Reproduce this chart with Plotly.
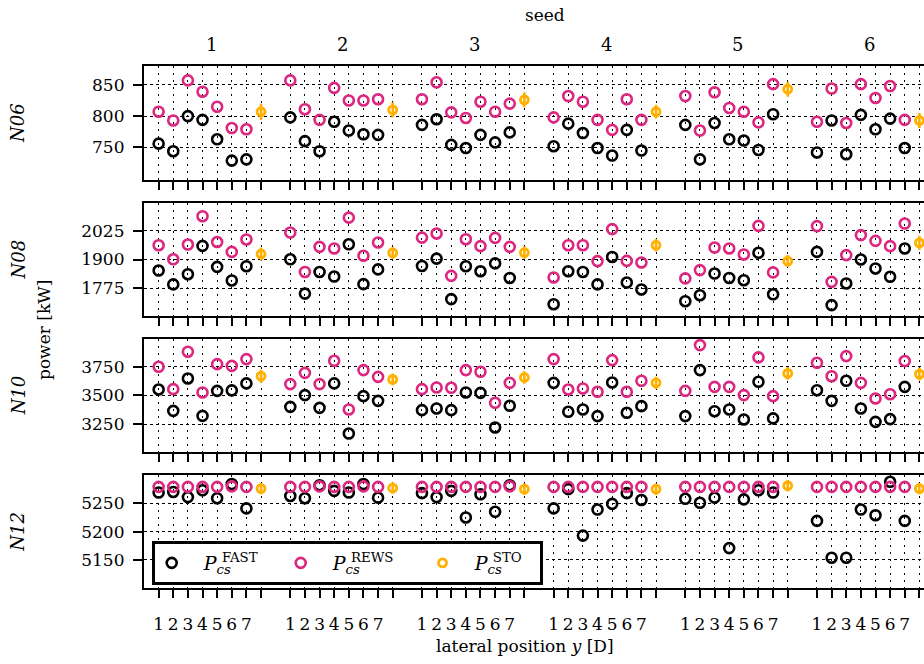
import plotly.graph_objects as go

# ---- categories -------------------------------------------------------
seeds = [1, 2, 3, 4, 5, 6]
positions = [1, 2, 3, 4, 5, 6, 7]
turbines = ["N06", "N08", "N10", "N12"]

# ---- N06 power [kW] ---------------------------------------------------
fast_n06 = [
    [756, 744, 800, 794, 763, 729, 731],
    [798, 760, 744, 791, 777, 771, 770],
    [786, 795, 754, 749, 770, 758, 774],
    [752, 788, 773, 749, 737, 778, 745],
    [786, 731, 789, 763, 761, 746, 803],
    [742, 793, 739, 802, 779, 796, 749],
]
rews_n06 = [
    [807, 793, 857, 839, 815, 781, 779],
    [857, 811, 794, 845, 825, 825, 827],
    [827, 854, 806, 797, 823, 807, 820],
    [798, 832, 823, 794, 778, 827, 794],
    [832, 777, 838, 813, 807, 790, 851],
    [791, 844, 789, 851, 829, 848, 794],
]
sto_n06 = [807, 810, 826, 807, 843, 793]
sto_err_n06 = [13, 12, 12, 11, 12, 12]

# ---- N08 power [kW] ---------------------------------------------------
fast_n08 = [
    [1852, 1792, 1836, 1959, 1868, 1809, 1871],
    [1901, 1752, 1846, 1826, 1966, 1793, 1857],
    [1872, 1904, 1728, 1871, 1849, 1883, 1820],
    [1706, 1849, 1846, 1792, 1911, 1800, 1770],
    [1719, 1745, 1839, 1820, 1810, 1929, 1749],
    [1933, 1702, 1796, 1900, 1861, 1825, 1948],
]
rews_n08 = [
    [1962, 1901, 1965, 2088, 1976, 1933, 1987],
    [2017, 1846, 1955, 1948, 2082, 1916, 1974],
    [1995, 2013, 1829, 1988, 1958, 1994, 1955],
    [1822, 1962, 1962, 1893, 2032, 1894, 1887],
    [1818, 1854, 1952, 1948, 1922, 2046, 1844],
    [2045, 1803, 1919, 2006, 1981, 1958, 2056],
]
sto_n08 = [1924, 1929, 1930, 1962, 1893, 1972]
sto_err_n08 = [28, 26, 27, 27, 26, 30]

# ---- N10 power [kW] ---------------------------------------------------
fast_n10 = [
    [3551, 3365, 3647, 3321, 3539, 3543, 3604],
    [3400, 3502, 3391, 3604, 3167, 3493, 3452],
    [3371, 3386, 3371, 3525, 3522, 3220, 3409],
    [3609, 3357, 3377, 3319, 3612, 3348, 3406],
    [3319, 3720, 3362, 3377, 3290, 3618, 3299],
    [3545, 3452, 3627, 3386, 3269, 3293, 3574],
]
rews_n10 = [
    [3749, 3554, 3880, 3525, 3772, 3757, 3816],
    [3598, 3696, 3598, 3801, 3377, 3720, 3661],
    [3554, 3569, 3566, 3720, 3705, 3435, 3609],
    [3816, 3551, 3560, 3531, 3807, 3531, 3627],
    [3539, 3938, 3574, 3574, 3502, 3831, 3493],
    [3784, 3667, 3842, 3609, 3473, 3510, 3799],
]
sto_n10 = [3667, 3639, 3656, 3609, 3691, 3685]
sto_err_n10 = [57, 52, 55, 54, 55, 56]

# ---- N12 power [kW] ---------------------------------------------------
fast_n12 = [
    [5269, 5270, 5261, 5273, 5259, 5284, 5241],
    [5263, 5259, 5282, 5272, 5269, 5284, 5260],
    [5268, 5261, 5272, 5225, 5266, 5235, 5282],
    [5241, 5275, 5193, 5239, 5249, 5268, 5256],
    [5258, 5251, 5260, 5171, 5257, 5273, 5269],
    [5219, 5154, 5154, 5239, 5229, 5288, 5219],
]
rews_n12 = [
    [5279, 5279, 5279, 5279, 5279, 5280, 5279],
    [5279, 5279, 5280, 5279, 5279, 5280, 5279],
    [5279, 5279, 5279, 5279, 5279, 5279, 5280],
    [5279, 5279, 5279, 5279, 5279, 5279, 5279],
    [5279, 5279, 5279, 5279, 5279, 5279, 5279],
    [5279, 5279, 5279, 5279, 5279, 5279, 5279],
]
sto_n12 = [5276, 5277, 5275, 5275, 5281, 5276]
sto_err_n12 = [10, 10, 10, 10, 10, 10]

# ---- axis ticks -------------------------------------------------------
ytick_vals = {
    "N06": [750, 800, 850],
    "N08": [1775, 1900, 2025],
    "N10": [3250, 3500, 3750],
    "N12": [5150, 5200, 5250],
}
y_ranges = {
    "N06": [698, 880],
    "N08": [1656, 2144],
    "N10": [3009, 3991],
    "N12": [5100, 5300],
}

panels = {
    "N06": (fast_n06, rews_n06, sto_n06, sto_err_n06),
    "N08": (fast_n08, rews_n08, sto_n08, sto_err_n08),
    "N10": (fast_n10, rews_n10, sto_n10, sto_err_n10),
    "N12": (fast_n12, rews_n12, sto_n12, sto_err_n12),
}

C_FAST = "#000000"
C_REWS = "#DC267F"
C_STO = "#FFB000"
FONT = "DejaVu Serif"

W, H = 924, 664
L_MARGIN = 144
GROUP = len(positions) + 2          # 7 positions + STO slot + gap
STO_SLOT = len(positions) + 1


def xpos(seed, pos):
    return (seed - 1) * GROUP + pos


def legend_name(tag, pad=0):
    # P with stacked subscript "cs" and superscript tag
    return ("&nbsp;&nbsp;<i>P</i><sub><i>cs</i></sub>"
            "<span style='letter-spacing:-15px'> </span>"
            f"<sup>{tag}</sup>" + "&nbsp;" * pad)


# panel extents in pixels (top, bottom)
panel_px = [(66, 180), (203.3, 315.7), (339, 451.7), (475, 588.3)]

fig = go.Figure()

for i, name in enumerate(turbines):
    fast, rews, sto, sto_err = panels[name]
    ax = "" if i == 0 else str(i + 1)
    xs, yf, yr = [], [], []
    for si, s in enumerate(seeds):
        for pi, p in enumerate(positions):
            xs.append(xpos(s, p))
            yf.append(fast[si][pi])
            yr.append(rews[si][pi])
    xsto = [xpos(s, STO_SLOT) for s in seeds]
    first = i == 0
    fig.add_trace(go.Scatter(
        x=xs, y=yf, mode="markers", xaxis="x" + ax, yaxis="y" + ax,
        name=legend_name("FAST", 3),
        legendgroup="fast", showlegend=first,
        marker=dict(symbol="circle-open", size=10, color=C_FAST,
                    line=dict(width=2.6, color=C_FAST)),
        cliponaxis=False,
    ))
    fig.add_trace(go.Scatter(
        x=xs, y=yr, mode="markers", xaxis="x" + ax, yaxis="y" + ax,
        name=legend_name("REWS", 4),
        legendgroup="rews", showlegend=first,
        marker=dict(symbol="circle-open", size=10, color=C_REWS,
                    line=dict(width=2.6, color=C_REWS)),
        cliponaxis=False,
    ))
    fig.add_trace(go.Scatter(
        x=xsto, y=sto, mode="markers", xaxis="x" + ax, yaxis="y" + ax,
        name=legend_name("STO", 2),
        legendgroup="sto", showlegend=first,
        error_y=dict(type="data", array=sto_err, color=C_STO,
                     thickness=2.6, width=0),
        marker=dict(symbol="circle-open", size=8, color=C_STO,
                    line=dict(width=2.8, color=C_STO)),
        cliponaxis=False,
    ))

# x ticks: one per position plus the STO slot
tickvals, ticktext = [], []
for s in seeds:
    for p in list(positions) + [STO_SLOT]:
        tickvals.append(xpos(s, p))
        ticktext.append(str(p) if p in positions else "")

x_max = (W - L_MARGIN) / 14.63

layout = dict(
    width=W, height=H,
    margin=dict(l=L_MARGIN, r=0, t=0, b=0),
    paper_bgcolor="white", plot_bgcolor="white",
    font=dict(family=FONT, size=17, color="black"),
    showlegend=True,
    legend=dict(
        orientation="h", x=(151.7 - L_MARGIN) / (W - L_MARGIN), xanchor="left",
        y=1 - 541 / H, yanchor="top",
        bordercolor="black", borderwidth=3, bgcolor="white",
        font=dict(family=FONT, size=19),
        tracegroupgap=0, itemwidth=30,
    ),
)

for i, name in enumerate(turbines):
    ax = "" if i == 0 else str(i + 1)
    top, bot = panel_px[i]
    layout["xaxis" + ax] = dict(
        domain=[0, 1], anchor="y" + ax, range=[0, x_max],
        tickmode="array", tickvals=tickvals, ticktext=ticktext,
        showticklabels=(i == len(turbines) - 1),
        ticks="outside", ticklen=8, tickwidth=2, tickcolor="black",
        ticklabelstandoff=11,
        showgrid=True, gridcolor="black", gridwidth=1, griddash="2px,5px",
        showline=True, linecolor="black", linewidth=2.2, mirror=True,
        zeroline=False,
        tickfont=dict(family=FONT, size=17),
    )
    layout["yaxis" + ax] = dict(
        domain=[1 - bot / H, 1 - top / H], anchor="x" + ax,
        range=y_ranges[name],
        tickmode="array", tickvals=ytick_vals[name],
        ticks="outside", ticklen=9, tickwidth=2, tickcolor="black",
        ticklabelstandoff=5,
        showgrid=True, gridcolor="black", gridwidth=1, griddash="3px,3px",
        showline=True, linecolor="black", linewidth=2.2, mirror=False,
        zeroline=False,
        tickfont=dict(family=FONT, size=17),
    )

fig.update_layout(**layout)

pw = W - L_MARGIN
annotations = []
# turbine row labels
for i, name in enumerate(turbines):
    top, bot = panel_px[i]
    annotations.append(dict(
        text=f"<i>{name}</i>", xref="paper", yref="paper",
        x=(18 - L_MARGIN) / pw, y=1 - (top + bot) / 2 / H,
        xanchor="center", yanchor="middle", textangle=-90,
        showarrow=False, font=dict(family=FONT, size=18),
    ))
# shared y label
annotations.append(dict(
    text="power [kW]", xref="paper", yref="paper",
    x=(44 - L_MARGIN) / pw, y=1 - 330 / H,
    xanchor="center", yanchor="middle", textangle=-90,
    showarrow=False, font=dict(family=FONT, size=17),
))
# seed labels along the top
for s in seeds:
    annotations.append(dict(
        text=str(s), xref="x", yref="paper",
        x=xpos(s, 4.6), y=1 - 44 / H,
        xanchor="center", yanchor="middle",
        showarrow=False, font=dict(family=FONT, size=18),
    ))
annotations.append(dict(
    text="seed", xref="paper", yref="paper",
    x=(545 - L_MARGIN) / pw, y=1 - 15 / H,
    xanchor="center", yanchor="middle",
    showarrow=False, font=dict(family=FONT, size=17),
))
annotations.append(dict(
    text="lateral position <i>y</i> [D]", xref="paper", yref="paper",
    x=(525 - L_MARGIN) / pw, y=1 - 646 / H,
    xanchor="center", yanchor="middle",
    showarrow=False, font=dict(family=FONT, size=17),
))
fig.update_layout(annotations=annotations)

fig.write_html("out.html")
